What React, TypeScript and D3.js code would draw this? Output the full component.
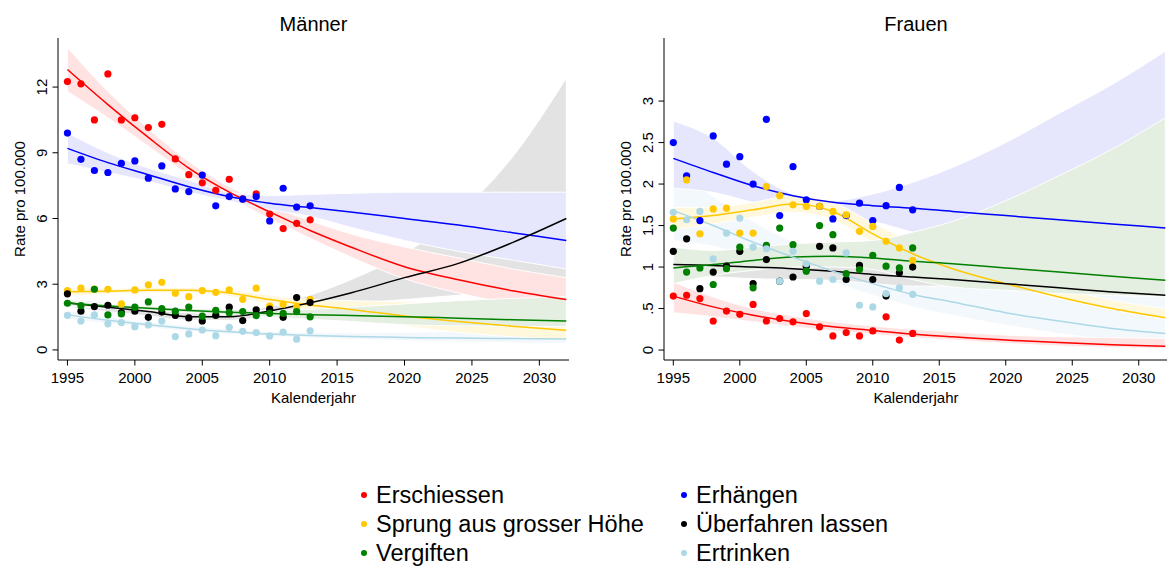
import React from "react";
import * as d3 from "d3";

// observed years and the years at which the fitted curves / bands are read
const obsYears = [1995, 1996, 1997, 1998, 1999, 2000, 2001, 2002, 2003, 2004, 2005, 2006, 2007, 2008, 2009, 2010, 2011, 2012, 2013];
const fitYears = [1995, 1998, 2001, 2004, 2007, 2010, 2013, 2016, 2020, 2024, 2028, 2032];
const xTicks = [1995, 2000, 2005, 2010, 2015, 2020, 2025, 2030];

const seriesNames = ["Erschiessen", "Erhängen", "Sprung aus grosser Höhe", "Überfahren lassen", "Vergiften", "Ertrinken"];
const seriesColors = ["#ff0000", "#0000ff", "#ffc800", "#000000", "#008000", "#add8e6"];
const bandColors = ["#ffe2e2", "#e6e6fd", "#fff8dc", "#e3e3e3", "#e4eee1", "#f2f8fc"];

// ---- Männer ----
const mObs = [
  [12.25, 12.15, 10.5, 12.6, 10.5, 10.6, 10.15, 10.3, 8.72, 8.0, 7.63, 7.29, 7.79, 6.9, 7.12, 6.2, 5.54, 5.78, 5.94],
  [9.9, 8.7, 8.19, 8.1, 8.52, 8.63, 7.84, 8.4, 7.35, 7.23, 7.98, 6.58, 7.0, 6.88, 7.0, 5.89, 7.38, 6.52, 6.58],
  [2.71, 2.82, 2.78, 2.77, 2.1, 2.74, 2.97, 3.09, 2.59, 2.43, 2.71, 2.63, 2.74, 2.31, 2.82, 2.0, 2.09, 1.95, 2.31],
  [2.56, 1.77, 1.98, 2.04, 1.7, 1.77, 1.49, 1.73, 1.58, 1.46, 1.32, 1.58, 1.95, 1.34, 1.83, 1.86, 1.49, 2.39, 2.16],
  [2.13, 2.02, 2.77, 1.6, 1.64, 1.95, 2.19, 1.89, 1.77, 1.96, 1.54, 1.81, 1.7, 1.75, 1.57, 1.67, 1.67, 1.75, 1.51],
  [1.58, 1.32, 1.6, 1.19, 1.25, 1.06, 1.14, 1.32, 0.61, 0.73, 0.91, 0.65, 1.03, 0.85, 0.79, 0.64, 0.81, 0.49, 0.87],
];
const mFit = [
  [12.8, 11.2, 9.7, 8.3, 7.2, 6.3, 5.45, 4.7, 3.8, 3.2, 2.7, 2.3],
  [9.2, 8.55, 8.0, 7.45, 7.0, 6.7, 6.5, 6.3, 6.0, 5.7, 5.35, 5.0],
  [2.65, 2.68, 2.72, 2.72, 2.6, 2.3, 2.05, 1.85, 1.55, 1.3, 1.08, 0.9],
  [2.15, 1.95, 1.75, 1.52, 1.52, 1.78, 2.15, 2.6, 3.3, 3.95, 4.9, 6.0],
  [2.13, 2.0, 1.9, 1.8, 1.72, 1.66, 1.61, 1.57, 1.52, 1.45, 1.38, 1.32],
  [1.6, 1.35, 1.15, 0.97, 0.83, 0.73, 0.66, 0.61, 0.57, 0.54, 0.52, 0.5],
];
const mLo = [
  [11.8, 10.6, 9.3, 8.0, 6.95, 6.0, 5.1, 4.25, 3.25, 2.6, 2.1, 1.7],
  [8.5, 8.1, 7.7, 7.2, 6.8, 6.4, 6.1, 5.6, 5.0, 4.5, 4.1, 3.7],
  [2.45, 2.55, 2.6, 2.6, 2.45, 2.1, 1.8, 1.5, 1.1, 0.8, 0.6, 0.45],
  [1.95, 1.75, 1.55, 1.35, 1.35, 1.55, 1.85, 2.1, 2.3, 2.5, 2.7, 2.9],
  [2.0, 1.9, 1.8, 1.7, 1.6, 1.52, 1.4, 1.3, 1.15, 1.1, 1.08, 1.06],
  [1.4, 1.2, 1.02, 0.85, 0.72, 0.62, 0.55, 0.48, 0.42, 0.36, 0.32, 0.28],
];
const mHi = [
  [13.8, 11.8, 10.1, 8.6, 7.45, 6.6, 5.9, 5.3, 4.7, 4.2, 3.7, 3.3],
  [9.9, 9.0, 8.3, 7.75, 7.2, 7.05, 7.1, 7.15, 7.2, 7.2, 7.2, 7.2],
  [2.85, 2.8, 2.85, 2.85, 2.75, 2.5, 2.3, 2.25, 2.2, 2.15, 2.1, 2.0],
  [2.35, 2.15, 1.95, 1.7, 1.7, 2.0, 2.5, 3.2, 4.4, 6.2, 8.8, 12.4],
  [2.3, 2.1, 2.0, 1.9, 1.85, 1.8, 1.85, 1.95, 2.1, 2.25, 2.35, 2.43],
  [1.8, 1.5, 1.28, 1.1, 0.95, 0.85, 0.8, 0.78, 0.8, 0.85, 0.9, 0.95],
];

// ---- Frauen ----
const fObs = [
  [0.65, 0.66, 0.62, 0.35, 0.47, 0.43, 0.55, 0.35, 0.38, 0.34, 0.44, 0.28, 0.17, 0.21, 0.17, 0.23, 0.4, 0.12, 0.2],
  [2.5, 2.1, 1.56, 2.58, 2.24, 2.33, 2.0, 2.78, 1.62, 2.21, 1.81, 1.73, 1.58, 1.62, 1.77, 1.56, 1.74, 1.96, 1.69],
  [1.58, 2.05, 1.4, 1.7, 1.71, 1.41, 1.41, 1.97, 1.86, 1.75, 1.73, 1.73, 1.67, 1.63, 1.43, 1.49, 1.31, 1.23, 1.08],
  [1.19, 1.34, 0.74, 0.94, 1.01, 1.19, 0.8, 1.09, 0.83, 0.88, 1.01, 1.25, 1.23, 0.85, 1.02, 0.85, 0.65, 0.93, 1.0],
  [1.47, 0.94, 0.99, 0.79, 0.98, 1.24, 0.75, 1.26, 1.47, 1.27, 0.95, 1.5, 1.39, 0.92, 0.97, 1.14, 1.01, 0.99, 1.23],
  [1.66, 1.57, 1.67, 1.1, 1.41, 1.59, 1.24, 1.22, 0.83, 1.19, 1.04, 0.83, 0.85, 1.17, 0.54, 0.52, 0.68, 0.75, 0.67],
];
const fFit = [
  [0.65, 0.52, 0.42, 0.34, 0.28, 0.235, 0.19, 0.16, 0.12, 0.09, 0.065, 0.045],
  [2.31, 2.14, 1.98, 1.86, 1.78, 1.74, 1.71, 1.67, 1.62, 1.57, 1.52, 1.47],
  [1.58, 1.62, 1.69, 1.76, 1.67, 1.4, 1.16, 0.98, 0.8, 0.64, 0.5, 0.39],
  [1.03, 1.02, 1.0, 0.98, 0.95, 0.91, 0.88, 0.85, 0.8, 0.75, 0.7, 0.66],
  [0.99, 1.03, 1.08, 1.12, 1.13, 1.11, 1.07, 1.04, 0.99, 0.94, 0.89, 0.84],
  [1.68, 1.5, 1.3, 1.12, 0.95, 0.8, 0.67, 0.58, 0.45, 0.35, 0.26, 0.2],
];
const fLo = [
  [0.45, 0.4, 0.34, 0.28, 0.23, 0.19, 0.15, 0.12, 0.08, 0.05, 0.03, 0.02],
  [1.95, 1.9, 1.78, 1.7, 1.62, 1.55, 1.42, 1.3, 1.15, 1.0, 0.85, 0.7],
  [1.45, 1.52, 1.6, 1.66, 1.57, 1.3, 1.05, 0.92, 0.77, 0.62, 0.48, 0.37],
  [0.85, 0.88, 0.86, 0.85, 0.84, 0.8, 0.77, 0.77, 0.73, 0.69, 0.67, 0.65],
  [0.8, 0.9, 0.96, 1.0, 1.0, 0.97, 0.85, 0.76, 0.72, 0.68, 0.66, 0.64],
  [1.32, 1.25, 1.12, 0.98, 0.82, 0.66, 0.52, 0.42, 0.3, 0.2, 0.12, 0.08],
];
const fHi = [
  [0.82, 0.64, 0.5, 0.41, 0.34, 0.29, 0.25, 0.22, 0.18, 0.16, 0.15, 0.14],
  [2.76, 2.55, 2.15, 1.88, 1.8, 1.88, 2.02, 2.2, 2.5, 2.85, 3.2, 3.6],
  [1.72, 1.72, 1.78, 1.86, 1.78, 1.53, 1.3, 1.1, 0.9, 0.75, 0.6, 0.5],
  [1.2, 1.15, 1.12, 1.1, 1.08, 1.06, 1.05, 1.1, 1.2, 1.3, 1.4, 1.5],
  [1.24, 1.2, 1.24, 1.28, 1.3, 1.32, 1.42, 1.55, 1.8, 2.1, 2.42, 2.8],
  [2.16, 1.85, 1.55, 1.3, 1.12, 0.95, 0.85, 0.78, 0.72, 0.68, 0.66, 0.64],
];

const mYTicks = [0, 3, 6, 9, 12];
const fYTicks = [0, 0.5, 1, 1.5, 2, 2.5, 3];
const fYTickLabels = ["0", ".5", "1", "1.5", "2", "2.5", "3"];

// band drawing order (light blue, black, red, blue, yellow, green)
const bandOrder = [5, 3, 0, 1, 2, 4];
const font = "'Liberation Sans', Arial, sans-serif";

interface PanelProps {
  title: string;
  left: number;
  right: number;
  yDomain: [number, number];
  yTicks: number[];
  yTickLabels: string[];
  obs: number[][];
  fit: number[][];
  lo: number[][];
  hi: number[][];
}

function Panel({ title, left, right, yDomain, yTicks, yTickLabels, obs, fit, lo, hi }: PanelProps) {
  const top = 38;
  const bottom = 360;
  const x = d3.scaleLinear().domain([1994.3, 2032.2]).range([left, right]);
  const y = d3.scaleLinear().domain(yDomain).range([bottom, top]);

  const area = d3.area<number>()
    .x((_, i) => x(fitYears[i]))
    .curve(d3.curveMonotoneX);
  const line = d3.line<number>()
    .x((_, i) => x(fitYears[i]))
    .y(d => y(d))
    .curve(d3.curveMonotoneX);

  return (
    <g>
      <text x={(left + right) / 2} y={31} textAnchor="middle" fontSize={20} fontFamily={font}>{title}</text>
      {bandOrder.map(s => (
        <path
          key={"b" + s}
          d={area.y0((_, i) => y(lo[s][i])).y1(d => y(d))(hi[s]) || ""}
          fill={bandColors[s]}
          stroke="#ffffff"
          strokeWidth={1}
        />
      ))}
      {fit.map((f, s) => (
        <path key={"l" + s} d={line(f) || ""} fill="none" stroke={seriesColors[s]} strokeWidth={1.5} />
      ))}
      {obs.map((vals, s) =>
        vals.map((v, i) => (
          <circle key={s + "-" + i} cx={x(obsYears[i])} cy={y(v)} r={3.6} fill={seriesColors[s]} />
        ))
      )}
      {/* axes */}
      <line x1={left} x2={left} y1={top} y2={bottom} stroke="#000" strokeWidth={1} />
      <line x1={left} x2={right} y1={bottom} y2={bottom} stroke="#000" strokeWidth={1} />
      {yTicks.map((t, i) => (
        <g key={"yt" + t}>
          <line x1={left - 5.5} x2={left} y1={y(t)} y2={y(t)} stroke="#000" />
          <text
            transform={`translate(${left - 11},${y(t)}) rotate(-90)`}
            textAnchor="middle"
            fontSize={15}
            fontFamily={font}
          >{yTickLabels[i]}</text>
        </g>
      ))}
      {xTicks.map(t => (
        <g key={"xt" + t}>
          <line x1={x(t)} x2={x(t)} y1={bottom} y2={bottom + 5.5} stroke="#000" />
          <text x={x(t)} y={383} textAnchor="middle" fontSize={15} fontFamily={font}>{t}</text>
        </g>
      ))}
      <text x={(left + right) / 2} y={403} textAnchor="middle" fontSize={15} fontFamily={font}>Kalenderjahr</text>
      <text
        transform={`translate(${left - 33.5},${(top + bottom) / 2}) rotate(-90)`}
        textAnchor="middle"
        fontSize={15}
        fontFamily={font}
      >Rate pro 100.000</text>
    </g>
  );
}

export default function App() {
  const legendCols = [364, 684];
  const legendRows = [503, 532, 561];
  return (
    <svg width={1167} height={567} style={{ position: "absolute", left: 0, top: 0, background: "#fff" }}>
      <rect width={1167} height={567} fill="#fff" />
      <Panel
        title="Männer"
        left={58}
        right={569}
        yDomain={[-0.46, 14.24]}
        yTicks={mYTicks}
        yTickLabels={mYTicks.map(String)}
        obs={mObs}
        fit={mFit}
        lo={mLo}
        hi={mHi}
      />
      <Panel
        title="Frauen"
        left={664}
        right={1168}
        yDomain={[-0.12, 3.76]}
        yTicks={fYTicks}
        yTickLabels={fYTickLabels}
        obs={fObs}
        fit={fFit}
        lo={fLo}
        hi={fHi}
      />
      {seriesNames.map((name, s) => {
        const cx = legendCols[s % 2];
        const cy = legendRows[Math.floor(s / 2)];
        return (
          <g key={name}>
            <circle cx={cx} cy={cy - 8} r={3} fill={seriesColors[s]} />
            <text x={cx + 12} y={cy} fontSize={23.5} fontFamily={font}>{name}</text>
          </g>
        );
      })}
    </svg>
  );
}
